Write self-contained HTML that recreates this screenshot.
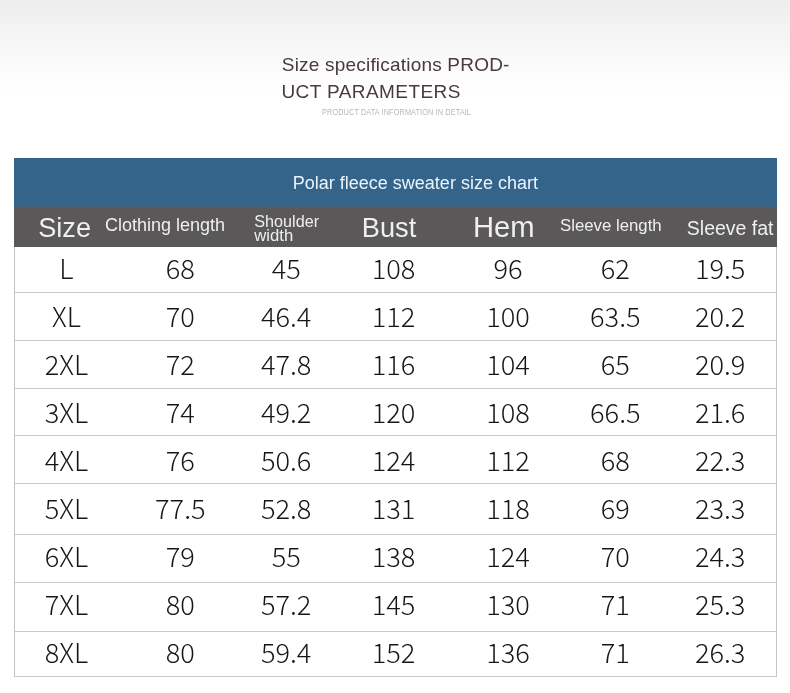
<!DOCTYPE html>
<html><head><meta charset="utf-8">
<title>Polar fleece sweater size chart</title>
<style>
html,body{margin:0;padding:0}
body{width:790px;height:693px;overflow:hidden;position:relative;background:#fff;font-family:"Liberation Sans",sans-serif}
#bg{position:absolute;left:0;top:0;width:790px;height:160px;background:linear-gradient(to bottom,#ededed 0,#f4f4f4 32px,#fafafa 62px,#fefefe 84px,#fff 100px)}
.t{position:absolute;white-space:nowrap;line-height:1}
#t1{left:281.8px;top:54.6px;font-size:19px;letter-spacing:0.2px;color:#4a3a40}
#t2{left:281.4px;top:82.4px;font-size:19px;letter-spacing:0.42px;color:#4a3a40}
#t3{left:321.5px;top:108.2px;font-size:8.4px;color:#b8b8b8;letter-spacing:0.1px;transform-origin:0 0;transform:scaleX(0.878)}
#blue{position:absolute;left:14px;top:158px;width:763px;height:89px;background:linear-gradient(to bottom,#34648a 0,#34648a 47.5px,#5a5858 50.5px,#5a5858 100%)}
#cap{left:292.8px;top:174px;font-size:18px;color:#eaf4fd}
.h{color:#efefef}
#tbl{position:absolute;left:14px;top:247px;width:761px;height:429px;border-left:1px solid #c4c4c4;border-right:1px solid #c4c4c4}
.ln{position:absolute;left:14px;width:763px;height:1px;background:#c8c8c8}
.row{position:absolute;left:0;width:790px;height:48px}
.c{position:absolute;top:0;height:48px;line-height:48px;text-align:center;font-family:"Noto Sans CJK SC","Liberation Sans",sans-serif;font-weight:300;font-size:27.2px;color:#161616;width:120px;margin-left:-60px;white-space:nowrap}
</style></head><body>
<div id="bg"></div>
<div class="t" id="t1">Size specifications PROD-</div>
<div class="t" id="t2">UCT PARAMETERS</div>
<div class="t" id="t3">PRODUCT DATA INFORMATION IN DETAIL</div>
<div id="blue"></div>
<div class="t" id="cap">Polar fleece sweater size chart</div>
<div class="t h" id="h1" style="left:38.2px;top:214.2px;font-size:27.2px">Size</div>
<div class="t h" id="h2" style="left:105px;top:216px;font-size:18px">Clothing length</div>
<div class="t h" id="h3" style="left:254.3px;top:214px;font-size:16.2px;line-height:14px;white-space:normal;width:80px">Shoulder <span style="font-size:16.7px;position:relative;top:-0.5px">width</span></div>
<div class="t h" id="h4" style="left:361.8px;top:214px;font-size:27.2px">Bust</div>
<div class="t h" id="h5" style="left:473px;top:212.8px;font-size:29.2px">Hem</div>
<div class="t h" id="h6" style="left:560px;top:218.4px;font-size:16.8px">Sleeve length</div>
<div class="t h" id="h7" style="left:686.8px;top:218.8px;font-size:19.5px">Sleeve fat</div>
<div id="tbl"></div>
<div id="rows">
<div class="ln" style="top:292px"></div>
<div class="ln" style="top:340px"></div>
<div class="ln" style="top:388px"></div>
<div class="ln" style="top:435px"></div>
<div class="ln" style="top:483px"></div>
<div class="ln" style="top:534px"></div>
<div class="ln" style="top:582px"></div>
<div class="ln" style="top:631px"></div>
<div class="ln" style="top:676px"></div>
<div class="row" style="top:243px"><span class="c" style="left:66.4px">L</span><span class="c" style="left:180.3px">68</span><span class="c" style="left:286.2px">45</span><span class="c" style="left:393.5px">108</span><span class="c" style="left:508px">96</span><span class="c" style="left:615.3px">62</span><span class="c" style="left:720.2px">19.5</span></div>
<div class="row" style="top:291px"><span class="c" style="left:66.4px">XL</span><span class="c" style="left:180.3px">70</span><span class="c" style="left:286.2px">46.4</span><span class="c" style="left:393.5px">112</span><span class="c" style="left:508px">100</span><span class="c" style="left:615.3px">63.5</span><span class="c" style="left:720.2px">20.2</span></div>
<div class="row" style="top:339px"><span class="c" style="left:66.4px">2XL</span><span class="c" style="left:180.3px">72</span><span class="c" style="left:286.2px">47.8</span><span class="c" style="left:393.5px">116</span><span class="c" style="left:508px">104</span><span class="c" style="left:615.3px">65</span><span class="c" style="left:720.2px">20.9</span></div>
<div class="row" style="top:387px"><span class="c" style="left:66.4px">3XL</span><span class="c" style="left:180.3px">74</span><span class="c" style="left:286.2px">49.2</span><span class="c" style="left:393.5px">120</span><span class="c" style="left:508px">108</span><span class="c" style="left:615.3px">66.5</span><span class="c" style="left:720.2px">21.6</span></div>
<div class="row" style="top:435px"><span class="c" style="left:66.4px">4XL</span><span class="c" style="left:180.3px">76</span><span class="c" style="left:286.2px">50.6</span><span class="c" style="left:393.5px">124</span><span class="c" style="left:508px">112</span><span class="c" style="left:615.3px">68</span><span class="c" style="left:720.2px">22.3</span></div>
<div class="row" style="top:483px"><span class="c" style="left:66.4px">5XL</span><span class="c" style="left:180.3px">77.5</span><span class="c" style="left:286.2px">52.8</span><span class="c" style="left:393.5px">131</span><span class="c" style="left:508px">118</span><span class="c" style="left:615.3px">69</span><span class="c" style="left:720.2px">23.3</span></div>
<div class="row" style="top:531px"><span class="c" style="left:66.4px">6XL</span><span class="c" style="left:180.3px">79</span><span class="c" style="left:286.2px">55</span><span class="c" style="left:393.5px">138</span><span class="c" style="left:508px">124</span><span class="c" style="left:615.3px">70</span><span class="c" style="left:720.2px">24.3</span></div>
<div class="row" style="top:579px"><span class="c" style="left:66.4px">7XL</span><span class="c" style="left:180.3px">80</span><span class="c" style="left:286.2px">57.2</span><span class="c" style="left:393.5px">145</span><span class="c" style="left:508px">130</span><span class="c" style="left:615.3px">71</span><span class="c" style="left:720.2px">25.3</span></div>
<div class="row" style="top:627px"><span class="c" style="left:66.4px">8XL</span><span class="c" style="left:180.3px">80</span><span class="c" style="left:286.2px">59.4</span><span class="c" style="left:393.5px">152</span><span class="c" style="left:508px">136</span><span class="c" style="left:615.3px">71</span><span class="c" style="left:720.2px">26.3</span></div>
</div>
</body></html>
